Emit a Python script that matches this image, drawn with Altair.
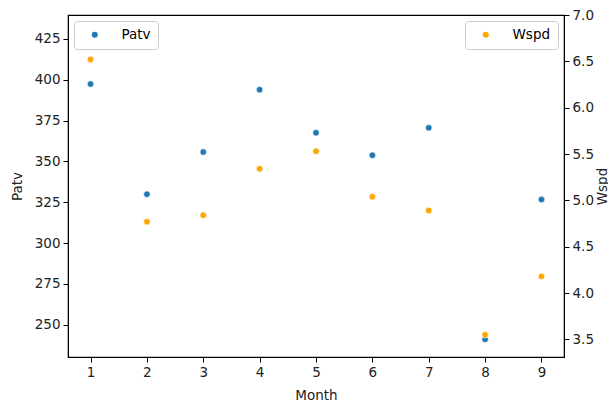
import altair as alt
import pandas as pd

months = [1, 2, 3, 4, 5, 6, 7, 8, 9]
patv = [397.3, 329.9, 355.7, 393.9, 367.5, 353.7, 370.5, 241.0, 326.6]
wspd = [6.52, 4.77, 4.84, 5.34, 5.53, 5.04, 4.89, 3.55, 4.18]

df = pd.DataFrame({"Month": months, "Patv": patv, "Wspd": wspd})

FONT = "DejaVu Sans"

x_enc = alt.X(
    "Month:Q",
    scale=alt.Scale(domain=[0.6, 9.4], nice=False, zero=False),
    axis=alt.Axis(values=months, title="Month", format="d", grid=False, titlePadding=10),
)

legend_common = dict(
    title=None,
    strokeColor="#cccccc",
    fillColor="white",
    cornerRadius=3,
    padding=7,
    symbolType="circle",
    symbolSize=36,
    symbolStrokeWidth=0,
    labelFontSize=13.5,
    labelFont=FONT,
    labelColor="black",
    symbolOffset=7,
    labelOffset=20,
    offset=6,
)

left = (
    alt.Chart(df)
    .transform_calculate(series="'Patv'")
    .mark_circle(size=42, opacity=1, stroke="white", strokeWidth=0.6)
    .encode(
        x=x_enc,
        y=alt.Y(
            "Patv:Q",
            scale=alt.Scale(domain=[230.2, 439.6], nice=False, zero=False),
            axis=alt.Axis(
                orient="left",
                values=[250, 275, 300, 325, 350, 375, 400, 425],
                title="Patv",
                titlePadding=10,
                grid=False,
            ),
        ),
        color=alt.Color(
            "series:N",
            scale=alt.Scale(domain=["Patv"], range=["#1f77b4"]),
            legend=alt.Legend(orient="top-left", **legend_common),
        ),
    )
)

right = (
    alt.Chart(df)
    .transform_calculate(series="'Wspd'")
    .mark_circle(size=42, opacity=1, stroke="white", strokeWidth=0.6)
    .encode(
        x=x_enc,
        y=alt.Y(
            "Wspd:Q",
            scale=alt.Scale(domain=[3.31, 7.0], nice=False, zero=False),
            axis=alt.Axis(
                orient="right",
                values=[3.5, 4.0, 4.5, 5.0, 5.5, 6.0, 6.5, 7.0],
                format=".1f",
                title="Wspd",
                titleAngle=270,
                titleBaseline="top",
                titleX=31,
                titleY=171,
                grid=False,
            ),
        ),
        color=alt.Color(
            "series:N",
            scale=alt.Scale(domain=["Wspd"], range=["#ffa500"]),
            legend=alt.Legend(orient="top-right", **legend_common),
        ),
    )
)

chart = (
    alt.layer(left, right)
    .resolve_scale(y="independent", color="independent")
    .resolve_legend(color="independent")
    .properties(
        width=496,
        height=342,
        autosize=alt.AutoSizeParams(type="none"),
        padding={"left": 60, "top": 7, "right": 44, "bottom": 47},
    )
    .configure(font=FONT)
    .configure_view(stroke="black", strokeWidth=1.2)
    .configure_axis(
        domainColor="black",
        tickColor="black",
        tickSize=5,
        tickWidth=1,
        labelFont=FONT,
        labelFontSize=13.5,
        labelColor="#222222",
        labelPadding=3,
        titleFont=FONT,
        titleFontSize=13.5,
        titleFontWeight="normal",
        titleColor="#222222",
    )
)

chart.save("out.html", embed_options={"renderer": "svg", "actions": False})
